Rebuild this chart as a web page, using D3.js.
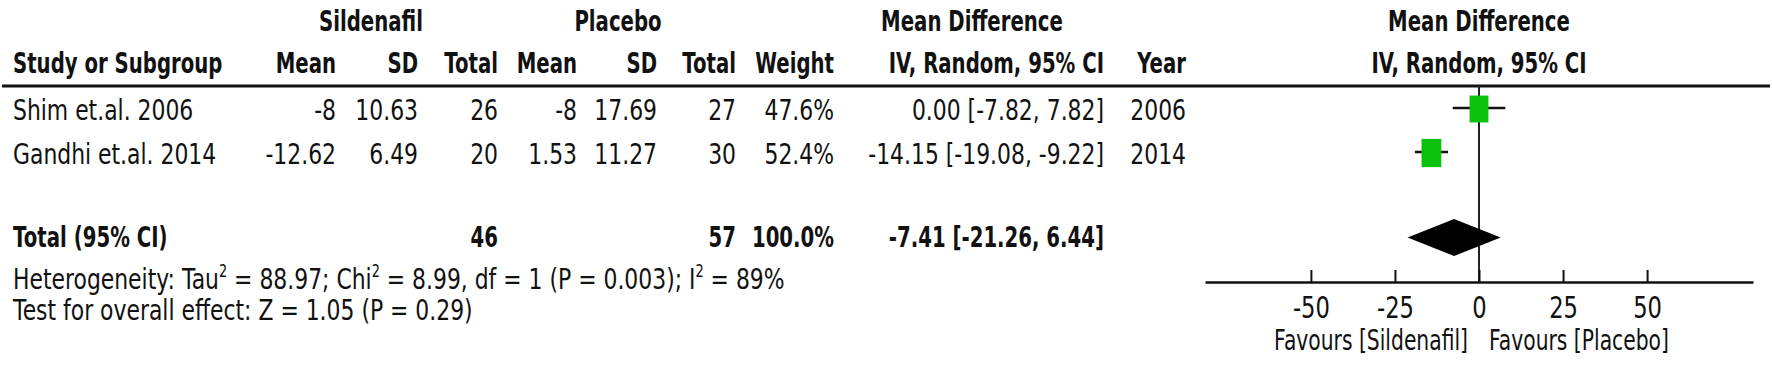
<!DOCTYPE html>
<html>
<head>
<meta charset="utf-8">
<script src="https://cdn.jsdelivr.net/npm/d3@7"></script>
<style>
  body { margin: 0; background: #fff; }
  svg text { font-family: "DejaVu Sans", Verdana, sans-serif; font-size: 29px; fill: #111; }
</style>
</head>
<body>
<div id="chart"></div>
<script>
// study rows
var studies = ["Shim et.al. 2006", "Gandhi et.al. 2014"];
var silMean = [-8, -12.62];
var silSD = [10.63, 6.49];
var silTotal = [26, 20];
var plaMean = [-8, 1.53];
var plaSD = [17.69, 11.27];
var plaTotal = [27, 30];
var weights = [47.6, 52.4];
var md = [0.00, -14.15];
var ciLow = [-7.82, -19.08];
var ciHigh = [7.82, -9.22];
var years = [2006, 2014];

// pooled result
var pooledMD = -7.41;
var pooledCI = [-21.26, 6.44];
var pooledN = [46, 57];
var pooledWeight = 100.0;

var axisTicks = [-50, -25, 0, 25, 50];
var favours = ["Favours [Sildenafil]", "Favours [Placebo]"];
var groupHeads = ["Sildenafil", "Placebo", "Mean Difference", "Mean Difference"];
var colHeads = ["Mean", "SD", "Total", "Mean", "SD", "Total", "Weight", "IV, Random, 95% CI", "Year"];

var w = 1772, h = 390;
// the original text is squeezed sideways
var SXR = 0.755, SXB = 0.68;

var loc = d3.formatLocale({decimal: ".", thousands: ",", grouping: [3], currency: ["", ""], minus: "-"});
var f2 = loc.format(".2f");
var f1 = loc.format(".1f");
var fnum = function(v) { return loc.format("")(v); };

var svg = d3.select("#chart").append("svg")
  .attr("width", w)
  .attr("height", h);

svg.append("rect").attr("width", w).attr("height", h).attr("fill", "white");

function txt(x, y, s, anchor, bold, sx) {
  return svg.append("text")
    .attr("transform", "translate(" + x + "," + y + ") scale(" + (sx || (bold ? SXB : SXR)) + ",1)")
    .attr("text-anchor", anchor || "start")
    .style("font-weight", bold ? "bold" : "normal")
    .text(s);
}

var x = d3.scaleLinear().domain([-81.5, 81.5]).range([1205, 1753]);
var rowY = d3.scaleLinear().domain([0, 1]).range([109, 153]);
var boxH = d3.scaleSqrt().domain([0, 100]).range([0, 39]);

// column right edges
var colX = [336, 418, 498, 577, 657, 736, 834, 1104, 1186];

// headers
txt(371, 31, groupHeads[0], "middle", true);
txt(618, 31, groupHeads[1], "middle", true);
txt(972, 31, groupHeads[2], "middle", true);
txt(x(0), 31, groupHeads[3], "middle", true);

txt(13, 73, "Study or Subgroup", "start", true);
colHeads.forEach(function(c, i) { txt(colX[i], 73, c, "end", true); });
txt(x(0), 73, colHeads[7], "middle", true);

svg.append("line")
  .attr("x1", 2).attr("x2", 1770)
  .attr("y1", 86).attr("y2", 86)
  .attr("stroke", "#111").attr("stroke-width", 3);

// study rows
studies.forEach(function(s, i) {
  var y = rowY(i) + 11;
  txt(13, y, s);
  var cells = [fnum(silMean[i]), silSD[i].toFixed(2), silTotal[i], fnum(plaMean[i]), plaSD[i].toFixed(2), plaTotal[i],
    f1(weights[i]) + "%", f2(md[i]) + " [" + f2(ciLow[i]) + ", " + f2(ciHigh[i]) + "]", years[i]];
  cells.forEach(function(c, j) { txt(colX[j], y, c, "end"); });
});

// totals
txt(13, 247, "Total (95% CI)", "start", true);
txt(colX[2], 247, pooledN[0], "end", true);
txt(colX[5], 247, pooledN[1], "end", true);
txt(colX[6], 247, f1(pooledWeight) + "%", "end", true);
txt(colX[7], 247, f2(pooledMD) + " [" + f2(pooledCI[0]) + ", " + f2(pooledCI[1]) + "]", "end", true);

var het = txt(13, 289, "Heterogeneity: Tau");
het.append("tspan").attr("dy", -12).style("font-size", "17px").text("2");
het.append("tspan").attr("dy", 12).text(" = 88.97; Chi");
het.append("tspan").attr("dy", -12).style("font-size", "17px").text("2");
het.append("tspan").attr("dy", 12).text(" = 8.99, df = 1 (P = 0.003); I");
het.append("tspan").attr("dy", -12).style("font-size", "17px").text("2");
het.append("tspan").attr("dy", 12).text(" = 89%");
txt(13, 320, "Test for overall effect: Z = 1.05 (P = 0.29)");

// zero line
svg.append("line")
  .attr("x1", x(0)).attr("x2", x(0))
  .attr("y1", 86).attr("y2", 282)
  .attr("stroke", "#222").attr("stroke-width", 2);

// whiskers
svg.selectAll(".ci").data(studies).enter().append("line")
  .attr("x1", function(d, i) { return x(ciLow[i]); })
  .attr("x2", function(d, i) { return x(ciHigh[i]); })
  .attr("y1", function(d, i) { return rowY(i) - 1; })
  .attr("y2", function(d, i) { return rowY(i) - 1; })
  .attr("stroke", "#111").attr("stroke-width", 2.5);

// weight boxes
svg.selectAll(".box").data(studies).enter().append("rect")
  .attr("x", function(d, i) { return x(md[i]) - boxH(weights[i]) * 0.35; })
  .attr("y", function(d, i) { return rowY(i) - boxH(weights[i]) / 2; })
  .attr("width", function(d, i) { return boxH(weights[i]) * 0.7; })
  .attr("height", function(d, i) { return boxH(weights[i]); })
  .attr("fill", "#0cc00c");

// pooled diamond
var dy = 237.5;
svg.append("path")
  .attr("d", "M" + x(pooledCI[0]) + "," + dy + "L" + x(pooledMD) + "," + (dy - 18.5) +
    "L" + x(pooledCI[1]) + "," + dy + "L" + x(pooledMD) + "," + (dy + 18.5) + "Z")
  .attr("fill", "#000");

// axis
var ax = svg.append("g")
  .attr("transform", "translate(0,282)")
  .call(d3.axisBottom(x).tickValues(axisTicks).tickSizeInner(-12).tickSizeOuter(0).tickPadding(15)
    .tickFormat(function(d) { return fnum(d); }));
ax.select(".domain").attr("stroke", "#111").attr("stroke-width", 2.5);
ax.selectAll(".tick line").attr("stroke", "#111").attr("stroke-width", 2);
ax.selectAll(".tick text")
  .attr("font-family", null).attr("font-size", null)
  .attr("transform", "scale(" + SXR + ",1)")
  .style("font-size", "30px");

txt(x(0) - 11, 350, favours[0], "end", false, 0.7);
txt(x(0) + 10, 350, favours[1], "start", false, 0.7);
</script>
</body>
</html>
